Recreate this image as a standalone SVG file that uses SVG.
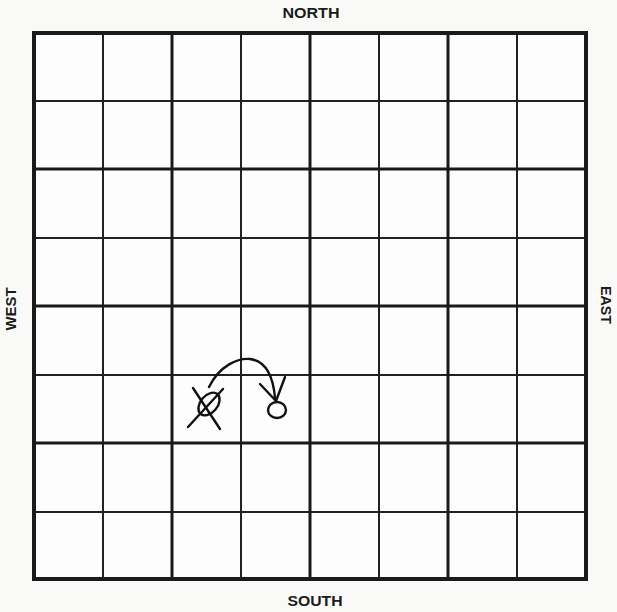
<svg xmlns="http://www.w3.org/2000/svg" width="617" height="612" viewBox="0 0 617 612">
  <style>
    .lbl { font-family: "Liberation Sans", Arial, sans-serif; font-weight: bold; font-size: 14px; fill: #1a1a1a; }
    .thin { stroke: #222; stroke-width: 2; fill: none; }
    .thick { stroke: #1a1a1a; stroke-width: 3; fill: none; }
    .border { stroke: #1a1a1a; stroke-width: 4; fill: none; }
    .ink { stroke: #111; stroke-width: 2.4; fill: none; stroke-linecap: round; stroke-linejoin: round; }
  </style>
  <rect width="617" height="612" fill="#f9f9f8"/>
  <g id="board">
    <rect x="34" y="33" width="552" height="546" fill="#fdfdfd"/>
    <g id="thin-lines">
      <line class="thin" x1="103" y1="33" x2="103" y2="579"/>
      <line class="thin" x1="241" y1="33" x2="241" y2="579"/>
      <line class="thin" x1="379" y1="33" x2="379" y2="579"/>
      <line class="thin" x1="517" y1="33" x2="517" y2="579"/>
      <line class="thin" x1="34" y1="101" x2="586" y2="101"/>
      <line class="thin" x1="34" y1="238" x2="586" y2="238"/>
      <line class="thin" x1="34" y1="375" x2="586" y2="375"/>
      <line class="thin" x1="34" y1="512" x2="586" y2="512"/>
    </g>
    <g id="thick-lines">
      <line class="thick" x1="172" y1="33" x2="172" y2="579"/>
      <line class="thick" x1="310" y1="33" x2="310" y2="579"/>
      <line class="thick" x1="448" y1="33" x2="448" y2="579"/>
      <line class="thick" x1="34" y1="169" x2="586" y2="169"/>
      <line class="thick" x1="34" y1="306" x2="586" y2="306"/>
      <line class="thick" x1="34" y1="443" x2="586" y2="443"/>
    </g>
    <rect class="border" x="34" y="33" width="552" height="546"/>
  </g>
  <g id="labels">
    <text class="lbl" x="311" y="18" text-anchor="middle" textLength="57" lengthAdjust="spacingAndGlyphs">NORTH</text>
    <text class="lbl" x="315" y="606" text-anchor="middle" textLength="55" lengthAdjust="spacingAndGlyphs">SOUTH</text>
    <text class="lbl" transform="translate(16,309) rotate(-90)" text-anchor="middle" textLength="43" lengthAdjust="spacingAndGlyphs">WEST</text>
    <text class="lbl" transform="translate(601,305) rotate(90)" text-anchor="middle" textLength="38" lengthAdjust="spacingAndGlyphs">EAST</text>
  </g>
  <g id="crossed-piece">
    <ellipse class="ink" cx="209" cy="404" rx="13" ry="8.5" transform="rotate(-50 209 404)"/>
    <line class="ink" x1="188" y1="427" x2="223" y2="389"/>
    <line class="ink" x1="193" y1="388" x2="220" y2="429"/>
  </g>
  <g id="target-piece">
    <line class="ink" x1="260" y1="384" x2="276" y2="401"/>
    <line class="ink" x1="285" y1="377" x2="276" y2="401"/>
    <ellipse class="ink" cx="277" cy="410" rx="9" ry="8"/>
  </g>
  <g id="connectors">
    <path class="ink" d="M209,387 C220,365 238,358 250,359 C265,361 273,375 275,398"/>
  </g>
</svg>
